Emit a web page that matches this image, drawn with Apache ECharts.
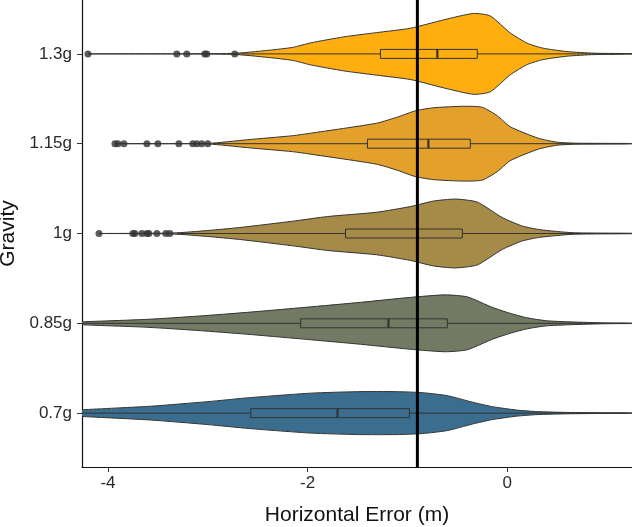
<!DOCTYPE html>
<html>
<head>
<meta charset="utf-8">
<script src="https://cdn.jsdelivr.net/npm/echarts@6/dist/echarts.min.js"></script>
<style>
  html, body { margin: 0; padding: 0; background: #fff; }
  #chart { width: 632px; height: 527px; }
</style>
</head>
<body>
<div id="chart"></div>
<script>
// categories, bottom to top
var categories = ["0.7g", "0.85g", "1g", "1.15g", "1.3g"];
var colors = ["#3B6E8E", "#737A63", "#A68A48", "#E3A02B", "#FFAE10"];

// violin outlines: [x, density]
var dens07 = [[-5.0, 0], [-4.26, 3.4], [-3.56, 7], [-3.0, 11.5], [-2.58, 15.5], [-1.97, 20], [-1.5, 21.5], [-1.1, 21.5], [-0.85, 20.5], [-0.6, 17.5], [-0.35, 11], [-0.15, 6.5], [0.1, 3], [0.3, 1.5], [0.6, 0.7], [1.0, 0.3], [1.3, 0.2]];
var dens085 = [[-4.6, 0], [-4.26, 1.5], [-3.6, 4], [-3.1, 7.2], [-2.6, 11], [-2.08, 15.5], [-1.47, 21], [-0.97, 26], [-0.62, 28.5], [-0.4, 26.5], [-0.15, 16], [0.03, 10], [0.2, 5.5], [0.4, 2.5], [0.7, 1.2], [1.0, 0.4], [1.3, 0.2]];
var dens1 = [[-4.09, 0], [-3.35, 0.5], [-3.0, 3], [-2.68, 6], [-2.15, 12.3], [-1.8, 17], [-1.31, 21.3], [-0.97, 27], [-0.74, 32.5], [-0.52, 34.5], [-0.3, 31.5], [-0.05, 16], [0.15, 7.5], [0.33, 3.8], [0.66, 0.8], [1.3, 0.2]];
var dens115 = [[-3.93, 0], [-3.0, 0.3], [-2.6, 4], [-2.15, 8], [-1.97, 10.5], [-1.31, 20.5], [-1.09, 27], [-0.92, 33], [-0.74, 36], [-0.44, 37.5], [-0.25, 36.5], [-0.1, 28], [0.03, 17], [0.31, 5.5], [0.5, 1.5], [0.7, 0.5], [1.3, 0.2]];
var dens13 = [[-4.2, 0], [-2.75, 0.5], [-2.4, 3.5], [-2.15, 6.5], [-1.97, 11], [-1.64, 17], [-1.31, 21.3], [-0.97, 25.7], [-0.64, 34], [-0.34, 40.5], [-0.17, 38], [0.03, 21], [0.2, 10.7], [0.36, 5.7], [0.6, 2.3], [0.87, 0.7], [1.3, 0.2]];
var violins = [dens07, dens085, dens1, dens115, dens13];

// boxplot stats: [lower whisker, q1, median, q3, upper whisker]
var boxStats = [
  [-4.6, -2.57, -1.70, -0.98, 1.2],
  [-4.27, -2.07, -1.19, -0.60, 1.2],
  [-3.3, -1.62, -0.90, -0.45, 1.2],
  [-2.95, -1.40, -0.79, -0.37, 1.2],
  [-2.72, -1.27, -0.70, -0.30, 1.15]
];

// outliers per category
var outliers07 = [];
var outliers085 = [];
var outliers1 = [-4.09, -3.75, -3.73, -3.66, -3.61, -3.59, -3.51, -3.42, -3.38];
var outliers115 = [-3.93, -3.90, -3.84, -3.61, -3.50, -3.29, -3.15, -3.11, -3.06, -3.00];
var outliers13 = [-4.20, -3.31, -3.21, -3.03, -3.01, -2.73];
var outlierSets = [outliers07, outliers085, outliers1, outliers115, outliers13];

var xTicks = [-4, -2, 0];
var refLineX = -0.9;

var font = "'Liberation Sans', Arial, sans-serif";
var maxDens = 0;
violins.forEach(function (v) { v.forEach(function (p) { if (p[1] > maxDens) maxDens = p[1]; }); });
var widthScale = 0.45 / maxDens;
var boxHalf = 0.05;

function renderViolin(params, api) {
  var i = params.dataIndex;
  var yc = i + 1;
  var pts = violins[i];
  var top = pts.map(function (p) { return api.coord([p[0], yc + p[1] * widthScale]); });
  var bot = pts.slice().reverse().map(function (p) { return api.coord([p[0], yc - p[1] * widthScale]); });
  var s = boxStats[i];
  var p1 = api.coord([s[1], yc + boxHalf]);
  var p3 = api.coord([s[3], yc - boxHalf]);
  var lo = api.coord([s[0], yc]);
  var hi = api.coord([s[4], yc]);
  var q1 = api.coord([s[1], yc]);
  var q3 = api.coord([s[3], yc]);
  var m1 = api.coord([s[2], yc + boxHalf]);
  var m2 = api.coord([s[2], yc - boxHalf]);
  var stroke = "#333";
  return {
    type: "group",
    children: [
      {
        type: "polygon",
        shape: { points: top.concat(bot), smooth: 0.2 },
        style: { fill: colors[i], stroke: stroke, lineWidth: 1 }
      },
      { type: "line", shape: { x1: lo[0], y1: lo[1], x2: q1[0], y2: q1[1] }, style: { stroke: stroke, lineWidth: 1 } },
      { type: "line", shape: { x1: q3[0], y1: q3[1], x2: hi[0], y2: hi[1] }, style: { stroke: stroke, lineWidth: 1 } },
      {
        type: "rect",
        shape: { x: p1[0], y: p1[1], width: p3[0] - p1[0], height: p3[1] - p1[1] },
        style: { fill: "none", stroke: stroke, lineWidth: 1 }
      },
      { type: "line", shape: { x1: m1[0], y1: m1[1], x2: m2[0], y2: m2[1] }, style: { stroke: stroke, lineWidth: 2.2 } }
    ]
  };
}

var outlierData = [];
outlierSets.forEach(function (set, i) {
  set.forEach(function (x) { outlierData.push([x, i + 1]); });
});

var chart = echarts.init(document.getElementById("chart"));
var option = {
  animation: false,
  textStyle: { fontFamily: font },
  grid: { left: 82, right: 0, top: 0, bottom: 60, containLabel: false, outerBoundsMode: "none" },
  xAxis: {
    type: "value",
    min: -4.26,
    max: 1.25,
    name: "Horizontal Error (m)",
    nameLocation: "middle",
    nameGap: 38,
    nameTextStyle: { fontSize: 21, color: "#111", fontFamily: font },
    axisLine: { show: true, onZero: false, lineStyle: { color: "#111", width: 1.2 } },
    axisTick: { show: true, length: 5, customValues: xTicks, lineStyle: { color: "#333" } },
    axisLabel: { customValues: xTicks, fontSize: 17, color: "#2a2a2a", margin: 8, fontFamily: font },
    splitLine: { show: false }
  },
  yAxis: {
    type: "value",
    min: 0.4,
    max: 5.6,
    name: "Gravity",
    nameLocation: "middle",
    nameGap: 57,
    nameTextStyle: { fontSize: 21, color: "#111", fontFamily: font },
    axisLine: { show: true, onZero: false, lineStyle: { color: "#111", width: 1.2 } },
    axisTick: { show: true, length: 5, customValues: [1, 2, 3, 4, 5], lineStyle: { color: "#333" } },
    axisLabel: {
      customValues: [1, 2, 3, 4, 5],
      fontSize: 17,
      color: "#2a2a2a",
      margin: 10,
      fontFamily: font,
      formatter: function (v) { return categories[Math.round(v) - 1]; }
    },
    splitLine: { show: false }
  },
  series: [
    {
      type: "custom",
      clip: true,
      renderItem: renderViolin,
      data: categories.map(function (c, i) { return [i]; }),
      silent: true,
      z: 2
    },
    {
      type: "scatter",
      data: outlierData,
      symbolSize: 7,
      itemStyle: { color: "#333" },
      silent: true,
      z: 3
    },
    {
      type: "line",
      data: [[refLineX, 0.4], [refLineX, 5.6]],
      symbol: "none",
      lineStyle: { color: "#000", width: 3 },
      silent: true,
      z: 5
    }
  ]
};
chart.setOption(option);
</script>
</body>
</html>
